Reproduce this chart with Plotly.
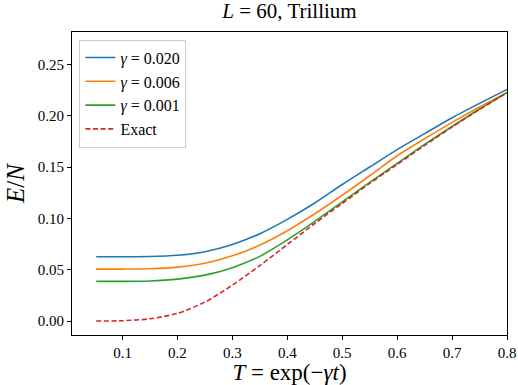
import plotly.graph_objects as go

T = [0.052, 0.1, 0.15, 0.2, 0.25, 0.3, 0.35, 0.4, 0.45, 0.5, 0.55, 0.6, 0.65, 0.7, 0.75, 0.8]
E_g020 = [0.0626, 0.0626, 0.0628, 0.0640, 0.0675, 0.0745, 0.0850, 0.0990, 0.1150, 0.1330, 0.1500,
          0.1670, 0.1825, 0.1980, 0.2120, 0.2256]
E_g006 = [0.0506, 0.0506, 0.0509, 0.0525, 0.0562, 0.0635, 0.0740, 0.0880, 0.1045, 0.1225, 0.1415,
          0.1610, 0.1775, 0.1935, 0.2085, 0.2227]
E_g001 = [0.0386, 0.0386, 0.0390, 0.0408, 0.0447, 0.0520, 0.0630, 0.0790, 0.0970, 0.1160, 0.1350,
          0.1535, 0.1720, 0.1895, 0.2065, 0.2225]
E_exact = [0.0, 0.0003, 0.0022, 0.0075, 0.0185, 0.0350, 0.0540, 0.0745, 0.0950, 0.1145, 0.1340,
           0.1525, 0.1710, 0.1890, 0.2060, 0.2222]

labels = ["<i>γ</i> = 0.020", "<i>γ</i> = 0.006", "<i>γ</i> = 0.001", "Exact"]
colors = ["#1f77b4", "#ff7f0e", "#2ca02c", "#d62728"]
series = [E_g020, E_g006, E_g001, E_exact]
dashes = ["solid", "solid", "solid", "5px,2.6px"]

FONT = "Liberation Serif"

fig = go.Figure()
for lab, col, ys, d in zip(labels, colors, series, dashes):
    fig.add_trace(go.Scatter(x=T, y=ys, mode="lines", name=lab,
                             line=dict(color=col, width=1.6, dash=d, shape="spline", smoothing=0.8)))

fig.update_layout(
    width=518, height=385,
    margin=dict(l=72, r=11, t=32, b=50, autoexpand=False),
    paper_bgcolor="white", plot_bgcolor="white",
    font=dict(family=FONT, size=15, color="black"),
    title=dict(text="<i>L</i> = 60, Trillium", x=0.5, xref="paper", xanchor="center",
               y=1, yref="container", yanchor="top", pad=dict(t=3),
               font=dict(family=FONT, size=21)),
    showlegend=True,
    legend=dict(x=0.017, y=0.975, xanchor="left", yanchor="top",
                bgcolor="rgba(255,255,255,0.8)", bordercolor="#cccccc", borderwidth=1,
                font=dict(family=FONT, size=16), tracegroupgap=0, itemwidth=30),
)
fig.update_xaxes(range=[0.008, 0.8], tickvals=[0.1, 0.2, 0.3, 0.4, 0.5, 0.6, 0.7, 0.8],
                 tickformat=".1f", ticks="outside", ticklen=4, tickcolor="black",
                 showline=True, linecolor="black", linewidth=1, mirror=True,
                 showgrid=False, zeroline=False, automargin=False,
                 tickfont=dict(size=15),
                 title=dict(text="<i>T</i> = exp(−<i>γt</i>)", font=dict(family=FONT, size=23), standoff=10))
fig.update_yaxes(range=[-0.0136, 0.2815], tickvals=[0.0, 0.05, 0.10, 0.15, 0.20, 0.25],
                 tickformat=".2f", ticks="outside", ticklen=4, tickcolor="black",
                 showline=True, linecolor="black", linewidth=1, mirror=True,
                 showgrid=False, zeroline=False, automargin=False,
                 tickfont=dict(size=15),
                 title=dict(text="<i>E</i>/<i>N</i>", font=dict(family=FONT, size=25), standoff=6))

fig.write_html("out.html")
